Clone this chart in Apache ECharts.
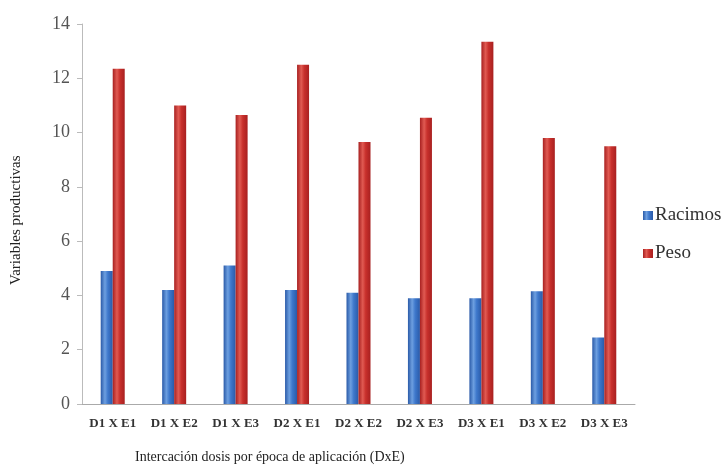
<!DOCTYPE html>
<html>
<head>
<meta charset="utf-8">
<script src="https://cdn.jsdelivr.net/npm/echarts@6/dist/echarts.min.js"></script>
<style>html,body{margin:0;padding:0;background:#fff}#c{width:726px;height:469px}</style>
</head>
<body>
<div id="c"></div>
<script>
const categories = ['D1 X E1','D1 X E2','D1 X E3','D2 X E1','D2 X E2','D2 X E3','D3 X E1','D3 X E2','D3 X E3'];
const racimos = [4.9, 4.2, 5.1, 4.2, 4.1, 3.9, 3.9, 4.15, 2.45];
const peso = [12.35, 11.0, 10.65, 12.5, 9.65, 10.55, 13.35, 9.8, 9.5];
const yTicks = [0, 2, 4, 6, 8, 10, 12, 14];

const serif = 'Liberation Serif';
function grad(dark, mid, light) {
  return new echarts.graphic.LinearGradient(0, 0, 1, 0, [
    {offset: 0, color: dark}, {offset: 0.35, color: light}, {offset: 0.6, color: mid}, {offset: 1, color: dark}
  ]);
}
const chart = echarts.init(document.getElementById('c'));
chart.setOption({
  animation: false,
  backgroundColor: '#fff',
  grid: {left: 82, right: 91, top: 24, bottom: 65},
  legend: {
    orient: 'vertical', left: 638, top: 201, itemGap: 19,
    icon: 'rect', itemHeight: 9, itemWidth: 10,
    textStyle: {fontFamily: serif, fontSize: 19, color: '#333', padding: [0,0,0,-3]},
    data: ['Racimos', 'Peso']
  },
  xAxis: {
    type: 'category', data: categories,
    axisLine: {lineStyle: {color: '#aaa'}},
    axisTick: {show: false},
    axisLabel: {fontFamily: serif, fontSize: 13, fontWeight: 'bold', color: '#333', margin: 13, interval: 0}
  },
  yAxis: {
    type: 'value', min: 0, max: 14, interval: 2,
    axisLine: {show: true, lineStyle: {color: '#bbb'}},
    axisTick: {show: true, length: 5, lineStyle: {color: '#bbb'}},
    splitLine: {show: false},
    axisLabel: {fontFamily: serif, fontSize: 18, color: '#555', margin: 12,
      formatter: v => yTicks.includes(v) ? String(v) : ''}
  },
  graphic: [
    {type: 'text', left: 135, top: 450,
     style: {text: 'Intercación dosis por época de aplicación (DxE)', fontFamily: serif, fontSize: 14, fill: '#222'}},
    {type: 'text', x: 9, y: 285, rotation: Math.PI / 2,
     style: {text: 'Variables productivas', fontFamily: serif, fontSize: 15, fill: '#222'}}
  ],
  series: [
    {name: 'Racimos', type: 'bar', data: racimos, barWidth: 12, barGap: '0%',
     itemStyle: {color: grad('#2a5aa8', '#3e78cc', '#6d9fe0')}},
    {name: 'Peso', type: 'bar', data: peso, barWidth: 12,
     itemStyle: {color: grad('#a82020', '#c8302c', '#e05a52')}}
  ]
});
</script>
</body>
</html>
